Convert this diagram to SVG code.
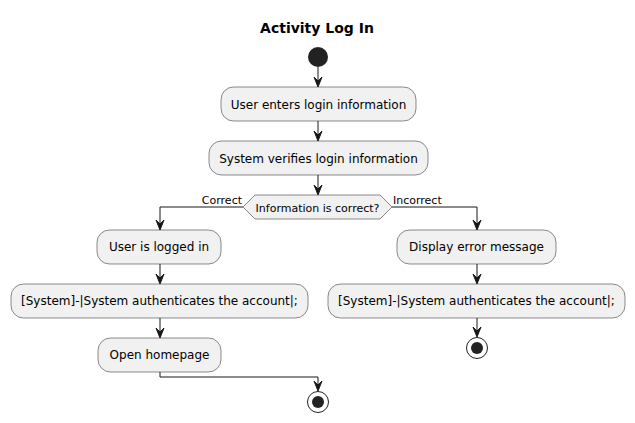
<svg xmlns="http://www.w3.org/2000/svg" width="635" height="423" viewBox="0 0 635 423">
<defs>
<style>
.box{fill:#F1F1F1;stroke:#181818;stroke-width:0.5}
.t{font-family:"DejaVu Sans",sans-serif;font-size:12px;fill:#000;text-anchor:middle}
.s{font-family:"DejaVu Sans",sans-serif;font-size:11px;fill:#000}
.ln{fill:none;stroke:#181818;stroke-width:1}
.ah{fill:#181818;stroke:#181818;stroke-width:1}
</style>
</defs>
<rect width="635" height="423" fill="#FFFFFF"/>
<text x="317" y="33" font-family="'DejaVu Sans',sans-serif" font-size="14" font-weight="bold" text-anchor="middle">Activity Log In</text>
<g id="start"><circle cx="318" cy="57" r="10" fill="#222222"/></g>
<g id="n1"><rect class="box" x="221" y="87" width="195" height="34" rx="12.5"/><text class="t" x="318.5" y="108.5">User enters login information</text></g>
<g id="n2"><rect class="box" x="209" y="141" width="219" height="34" rx="12.5"/><text class="t" x="318.5" y="162.5">System verifies login information</text></g>
<g id="d1"><polygon class="box" points="255,195 380,195 392,207 380,219 255,219 243,207"/><text class="s" x="317.5" y="211.5" text-anchor="middle">Information is correct?</text></g>
<g id="n3"><rect class="box" x="97" y="230" width="124" height="34" rx="12.5"/><text class="t" x="159" y="251">User is logged in</text></g>
<g id="n4"><rect class="box" x="11" y="284" width="297" height="34" rx="12.5"/><text class="t" x="159.5" y="305">[System]-|System authenticates the account|;</text></g>
<g id="n5"><rect class="box" x="98" y="338" width="123" height="34" rx="12.5"/><text class="t" x="159.5" y="359">Open homepage</text></g>
<g id="n6"><rect class="box" x="397" y="230" width="159" height="34" rx="12.5"/><text class="t" x="476.5" y="251">Display error message</text></g>
<g id="n7"><rect class="box" x="328" y="284" width="297" height="34" rx="12.5"/><text class="t" x="476.5" y="305">[System]-|System authenticates the account|;</text></g>
<g id="end1"><circle cx="477" cy="348" r="10.5" fill="#FFFFFF" stroke="#222222" stroke-width="1"/><circle cx="477" cy="348" r="6" fill="#222222"/></g>
<g id="end2"><circle cx="318" cy="402" r="10.5" fill="#FFFFFF" stroke="#222222" stroke-width="1"/><circle cx="318" cy="402" r="6" fill="#222222"/></g>
<g id="connectors">
<line class="ln" x1="318" y1="67" x2="318" y2="85"/><polygon class="ah" points="314,77 318,87 322,77 318,81"/>
<line class="ln" x1="318" y1="121" x2="318" y2="139"/><polygon class="ah" points="314,131 318,141 322,131 318,135"/>
<line class="ln" x1="318" y1="175" x2="318" y2="193"/><polygon class="ah" points="314,185 318,195 322,185 318,189"/>
<polyline class="ln" points="243,207 160,207 160,228"/><polygon class="ah" points="156,220 160,230 164,220 160,224"/>
<text class="s" x="242" y="204" text-anchor="end">Correct</text>
<polyline class="ln" points="392,207 477,207 477,228"/><polygon class="ah" points="473,220 477,230 481,220 477,224"/>
<text class="s" x="393" y="204">Incorrect</text>
<line class="ln" x1="160" y1="264" x2="160" y2="282"/><polygon class="ah" points="156,274 160,284 164,274 160,278"/>
<line class="ln" x1="160" y1="318" x2="160" y2="336"/><polygon class="ah" points="156,328 160,338 164,328 160,332"/>
<polyline class="ln" points="160,372 160,377 318,377 318,389"/><polygon class="ah" points="314,381 318,391 322,381 318,385"/>
<line class="ln" x1="477" y1="264" x2="477" y2="282"/><polygon class="ah" points="473,274 477,284 481,274 477,278"/>
<line class="ln" x1="477" y1="318" x2="477" y2="335"/><polygon class="ah" points="473,327 477,337 481,327 477,331"/>
</g>
</svg>
